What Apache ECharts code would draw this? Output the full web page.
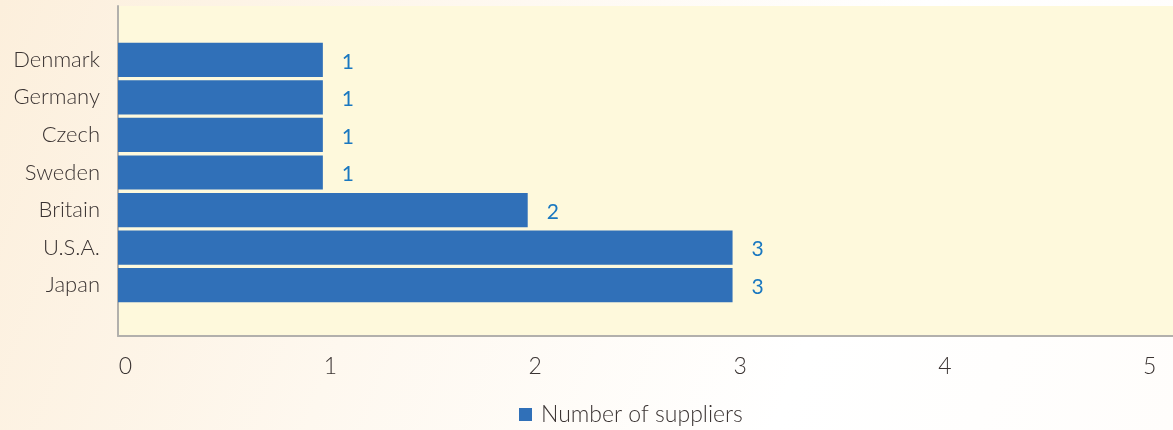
<!DOCTYPE html>
<html>
<head>
<meta charset="utf-8">
<script src="https://cdn.jsdelivr.net/npm/echarts@6/dist/echarts.min.js"></script>
<style>
  html, body { margin: 0; padding: 0; }
  #chart { width: 1173px; height: 430px; }
</style>
</head>
<body>
<div id="chart"></div>
<script>
// Suppliers by country
const countries = ['Denmark', 'Germany', 'Czech', 'Sweden', 'Britain', 'U.S.A.', 'Japan'];
const suppliers = [1, 1, 1, 1, 2, 3, 3];
const seriesName = 'Number of suppliers';
const xTicks = [0, 1, 2, 3, 4, 5];

const X_MAX = 5.15;
const FONT = 'Lato, "Open Sans", sans-serif';
const TEXT = '#3a3332';

const chart = echarts.init(document.getElementById('chart'), null, { renderer: 'canvas' });

chart.setOption({
  backgroundColor: new echarts.graphic.LinearGradient(0, 0, 1, 1, [
    { offset: 0, color: '#fcefdc' },
    { offset: 0.35, color: '#fef8ef' },
    { offset: 0.7, color: '#ffffff' },
    { offset: 1, color: '#fffdfb' }
  ]),
  animation: false,
  legend: {
    data: [seriesName],
    left: 514,
    top: 398,
    icon: 'rect',
    itemWidth: 13,
    itemHeight: 13,
    itemGap: 10,
    textStyle: { fontFamily: FONT, fontSize: 23, fontWeight: 300, color: TEXT, padding: [0, 0, 0, 4] }
  },
  grid: [
    // frame: pale plot area with axes and tick labels
    { left: 118, right: 0, top: 6, bottom: 94, show: true, backgroundColor: '#fef9dc', borderWidth: 0 },
    // bars
    { left: 118, right: 0, top: 41, bottom: 126 }
  ],
  xAxis: [
    {
      gridIndex: 0, type: 'value', min: 0, max: X_MAX, interval: 1,
      axisLine: { show: true, lineStyle: { color: '#b2b0ac', width: 2 } },
      axisTick: { show: false },
      splitLine: { show: false },
      axisLabel: {
        margin: 19, fontFamily: FONT, fontSize: 23, fontWeight: 300, color: TEXT,
        padding: [0, 0, 0, 15],
        showMaxLabel: false,
        formatter: v => (xTicks.indexOf(v) >= 0 ? String(v) : '')
      }
    },
    {
      gridIndex: 1, type: 'value', min: 0, max: X_MAX,
      show: false
    }
  ],
  yAxis: [
    {
      gridIndex: 0, type: 'value', min: 0, max: 1,
      axisLine: { show: true, lineStyle: { color: '#b2b0ac', width: 2 } },
      axisTick: { show: false },
      axisLabel: { show: false },
      splitLine: { show: false }
    },
    {
      gridIndex: 1, type: 'category', data: countries, inverse: true,
      axisLine: { show: false },
      axisTick: { show: false },
      axisLabel: {
        margin: 18, fontFamily: FONT, fontSize: 22, fontWeight: 300, color: TEXT,
        padding: [0, 0, 6, 0]
      }
    }
  ],
  series: [
    {
      name: seriesName,
      type: 'bar',
      xAxisIndex: 1,
      yAxisIndex: 1,
      data: suppliers,
      barCategoryGap: '9%',
      itemStyle: { color: '#3070b8' },
      label: {
        show: true,
        position: 'right',
        distance: 19,
        fontFamily: FONT,
        fontSize: 21,
        color: '#1a78c0',
        offset: [0, 2]
      }
    }
  ]
});
</script>
</body>
</html>
